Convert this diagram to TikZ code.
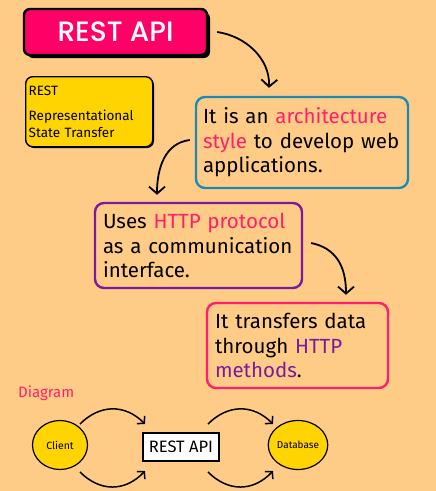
\documentclass[tikz,border=0pt]{standalone}
\usepackage{fontspec}
\setmainfont{Fira Sans}
\newfontfamily\titlefont{Poppins Medium}
\usetikzlibrary{arrows.meta,shapes.geometric}
\definecolor{bg}{HTML}{FFCC88}
\definecolor{titlered}{HTML}{FF0066}
\definecolor{hlpink}{HTML}{FF1F6B}
\definecolor{boxblue}{HTML}{1E8AB4}
\definecolor{boxpurple}{HTML}{7A1A9E}
\definecolor{ybox}{HTML}{FFD400}
\tikzset{
  card/.style={draw, line width=2.4pt, rounded corners=9pt, inner xsep=8pt, inner ysep=0pt,
    align=left, font=\fontsize{20.5}{24.5}\selectfont},
  bigarrow/.style={line width=1.8pt, -{Straight Barb[length=7pt,width=16pt]}},
  smallarrow/.style={line width=1.5pt, -{Straight Barb[length=5pt,width=11pt]}},
  disc/.style={ellipse, draw, line width=1.2pt, fill=ybox, minimum width=55pt, minimum height=49pt, inner sep=0pt},
}
\begin{document}
\begin{tikzpicture}[x=1pt,y=-1pt]
\fill[bg] (0,0) rectangle (436,491);
\useasboundingbox (0,0) rectangle (436,491);

% title
\fill[black, rounded corners=6pt] (27,12) rectangle (210,58);
\node[draw=black, line width=2.4pt, fill=titlered, rounded corners=6pt,
      minimum width=183pt, minimum height=46pt, text=white,
      font=\titlefont\fontsize{28}{30}\selectfont] (title) at (115.5,32) {REST API};

% yellow note
\fill[black, rounded corners=7pt] (27,78) rectangle (154,148);
\node[draw=black, line width=1.4pt, fill=ybox, rounded corners=7pt, anchor=north west,
      minimum width=127pt, minimum height=70pt, text width=121pt, inner xsep=3pt, align=left,
      font=\fontsize{13.5}{17}\selectfont] (note) at (25,76)
      {REST\\[8pt]Representational\\State Transfer};

% cards
\node[card, draw=boxblue, minimum width=212pt, minimum height=91pt, text width=198pt, inner xsep=7pt] (blue) at (302,142.5)
  {It is an \textcolor{hlpink}{architecture}\\\textcolor{hlpink}{style} to develop web\\applications.};
\node[card, draw=boxpurple, minimum width=207pt, minimum height=85pt, text width=191pt] (purple) at (198.5,245.5)
  {Uses \textcolor{hlpink}{HTTP protocol}\\as a communication\\interface.};
\node[card, draw=hlpink, minimum width=181pt, minimum height=85pt, text width=165pt] (pink) at (297.5,345.5)
  {It transfers data\\through \textcolor{boxpurple}{HTTP}\\\textcolor{boxpurple}{methods}.};

% flow arrows
\coordinate (a1s) at ([xshift=9pt]title.east);
\coordinate (a1e) at ([xshift=-33pt,yshift=8pt]blue.north);
\draw[bigarrow] (a1s) .. controls (245,36) and (270,58) .. (a1e);
\coordinate (a2s) at ([xshift=-5pt,yshift=2.5pt]blue.west);
\coordinate (a2e) at ([xshift=-41.5pt,yshift=7pt]purple.north);
\draw[bigarrow] (a2s) .. controls (165,143) and (157,168) .. (a2e);
\coordinate (a3s) at ([xshift=8pt,yshift=2.5pt]purple.east);
\coordinate (a3e) at ([xshift=48.5pt,yshift=7pt]pink.north);
\draw[bigarrow] (a3s) .. controls (335,248) and (346,265) .. (a3e);

% diagram
\node[text=hlpink, anchor=west, inner sep=0pt, font=\fontsize{15}{16}\selectfont] (dlabel) at (18,393) {Diagram};
\node[disc, font=\fontsize{10.5}{12}\selectfont] (client) at (60,445) {Client};
\node[draw, line width=1.2pt, fill=white, minimum width=76pt, minimum height=28pt, inner sep=0pt,
      font=\fontsize{16.5}{18}\selectfont] (api) at (181,447) {REST API};
\node[disc, font=\fontsize{10}{12}\selectfont] (db) at (298,445) {Database};

\coordinate (c1) at (80,424);
\coordinate (c2) at (80,472);
\coordinate (p1) at (145,424);
\coordinate (p2) at (145,471);
\coordinate (r1) at (208,424);
\coordinate (r2) at (208,472);
\coordinate (d1) at (273,424);
\coordinate (d2) at (273,471);
\draw[smallarrow] (c1) .. controls (100,404) and (125,404) .. (p1);
\draw[smallarrow] (c2) .. controls (100,492) and (125,492) .. (p2);
\draw[smallarrow] (r1) .. controls (228,404) and (253,404) .. (d1);
\draw[smallarrow] (r2) .. controls (228,492) and (253,492) .. (d2);
\end{tikzpicture}
\end{document}
